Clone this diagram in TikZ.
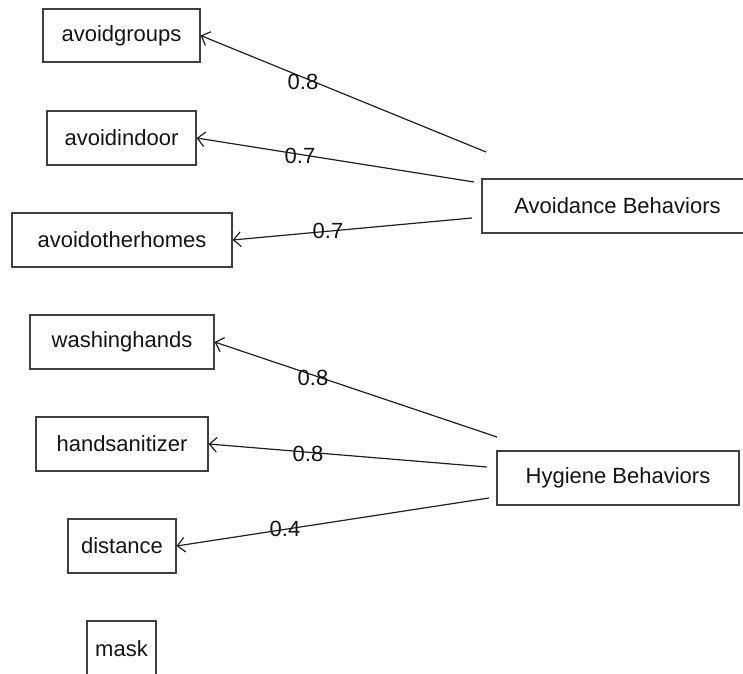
\documentclass[tikz,border=0pt]{standalone}
\usepackage{fontspec}
\setmainfont{Liberation Sans}
\usetikzlibrary{arrows.meta}
\begin{document}
\begin{tikzpicture}[x=0.75pt,y=-0.75pt,
  bx/.style 2 args={draw=black!75, line width=0.9pt, inner sep=0pt,
    minimum width=#1*0.75pt, minimum height=#2*0.75pt,
    font=\fontsize{16.5}{19}\selectfont, text=black!92},
  lab/.style={inner sep=0pt, font=\fontsize{16.5}{19}\selectfont, text=black!92},
  arr/.style={draw=black!88, line width=0.9pt, -{Straight Barb[length=5.5pt,width=11pt]}}]
\useasboundingbox (0,0) rectangle (743,674);
% indicator boxes
\node[bx={157}{53}] (ag) at (121.5,35.5) {avoidgroups};
\node[bx={149}{54}] (ai) at (121.5,138) {avoidindoor};
\node[bx={220}{54}] (ao) at (122,240) {avoidotherhomes};
\node[bx={184}{54}] (wh) at (122,342) {washinghands};
\node[bx={172}{54}] (hs) at (122,444) {handsanitizer};
\node[bx={108}{54}] (di) at (122,546) {distance};
\node[bx={69}{56}] (ma) at (121.5,649) {mask};
% factor boxes
\node[bx={271}{54}] (av) at (617.5,206) {Avoidance Behaviors};
\node[bx={242}{54}] (hy) at (618,478) {Hygiene Behaviors};
% connector start points
\coordinate (a1) at (486,152);
\coordinate (a2) at (474,182);
\coordinate (a3) at (472,218);
\coordinate (h1) at (497,437);
\coordinate (h2) at (487,467);
\coordinate (h3) at (489,498);
% connectors
\draw[arr] (a1) -- (ag.east);
\draw[arr] (a2) -- (ai.east);
\draw[arr] (a3) -- (ao.east);
\draw[arr] (h1) -- (wh.east);
\draw[arr] (h2) -- (hs.east);
\draw[arr] (h3) -- (di.east);
% loadings
\node[lab] (l1) at (303,82) {0.8};
\node[lab] (l2) at (300,156) {0.7};
\node[lab] (l3) at (328,231) {0.7};
\node[lab] (l4) at (313,378) {0.8};
\node[lab] (l5) at (308,454) {0.8};
\node[lab] (l6) at (285,529) {0.4};
\end{tikzpicture}
\end{document}
